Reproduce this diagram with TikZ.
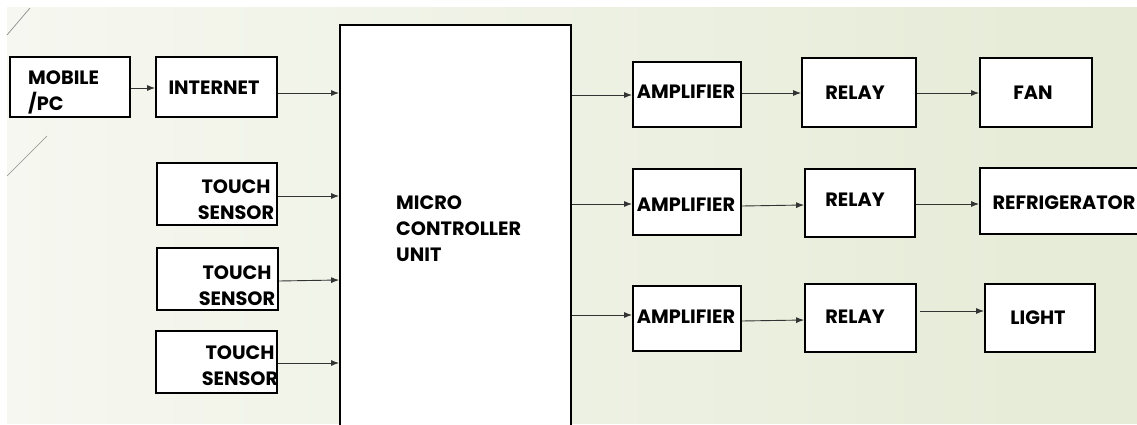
\documentclass[tikz,border=0pt]{standalone}
\usepackage{fontspec}
\setmainfont{Poppins}
\usetikzlibrary{arrows.meta}
\begin{document}
\begin{tikzpicture}[x=1pt,y=-1pt,
  box/.style={draw=black,line width=1.8pt,fill=white,inner sep=0pt},
  lbl/.style={font=\bfseries\fontsize{19.3}{26}\selectfont,inner sep=0pt,text=black},
  conn/.style={draw=black!80,line width=0.9pt,-{Latex[length=8pt,width=6pt]}},
  deco/.style={draw=black!45,line width=0.7pt}]
\useasboundingbox (0,0) rectangle (1137,425);
\clip (0,0) rectangle (1137,425);
% slide background
\shade[left color={rgb,255:red,246;green,247;blue,240},middle color=white,right color={rgb,255:red,229;green,235;blue,214}] (7,8) rectangle (1137,423);
\draw[deco] (7,35) -- (30,8);
\draw[deco] (7,176) -- (47,136);
% boxes
\node[box,minimum width=120pt,minimum height=60pt] (mob) at (70,87) {};
\node[box,minimum width=121pt,minimum height=60pt] (net) at (216.5,87) {};
\node[box,minimum width=120pt,minimum height=62pt] (t1) at (217,194) {};
\node[box,minimum width=121pt,minimum height=62pt] (t2) at (217.5,279) {};
\node[box,minimum width=121pt,minimum height=62pt] (t3) at (216.5,362) {};
\node[box,minimum width=231pt,minimum height=405pt] (mcu) at (455.5,227.5) {};
\node[box,minimum width=108pt,minimum height=65pt] (a1) at (687,94.5) {};
\node[box,minimum width=108pt,minimum height=66pt] (a2) at (687,202) {};
\node[box,minimum width=108pt,minimum height=65pt] (a3) at (687,318.5) {};
\node[box,minimum width=114pt,minimum height=69pt] (r1) at (859,92.5) {};
\node[box,minimum width=110pt,minimum height=68pt] (r2) at (860,203) {};
\node[box,minimum width=111pt,minimum height=68pt] (r3) at (860.5,318) {};
\node[box,minimum width=112pt,minimum height=69pt] (fan) at (1036,92.5) {};
\node[box,minimum width=170pt,minimum height=66pt] (ref) at (1065,201) {};
\node[box,minimum width=110pt,minimum height=68pt] (lig) at (1040,318) {};
% labels
\node[lbl,align=left,anchor=west] (tmob) at (28,92) {MOBILE\\/PC};
\node[lbl] (tnet) at (214,88) {INTERNET};
\node[lbl,align=center] (tt1) at (236,200) {TOUCH\\SENSOR};
\node[lbl,align=center] (tt2) at (237,286) {TOUCH\\SENSOR};
\node[lbl,align=center] (tt3) at (240,366) {TOUCH\\SENSOR};
\node[lbl,align=left,anchor=west] (tmcu) at (396,229) {MICRO\\CONTROLLER\\UNIT};
\node[lbl] (ta1) at (686,92) {AMPLIFIER};
\node[lbl] (ta2) at (686,205) {AMPLIFIER};
\node[lbl] (ta3) at (686,317) {AMPLIFIER};
\node[lbl] (tr1) at (855,93) {RELAY};
\node[lbl] (tr2) at (855,200) {RELAY};
\node[lbl] (tr3) at (855,317) {RELAY};
\node[lbl] (tfan) at (1033,93) {FAN};
\node[lbl] (tref) at (1064,203) {REFRIGERATOR};
\node[lbl] (tlig) at (1038,318) {LIGHT};
% connectors
\draw[conn] (mob.east |- 0,88) -- (net.west |- 0,88);
\draw[conn] (net.east |- 0,93) -- (mcu.west |- 0,93);
\draw[conn] (t1.east |- 0,196) -- (mcu.west |- 0,196);
\draw[conn] (t2.east |- 0,281) -- (mcu.west |- 0,280);
\draw[conn] (t3.east |- 0,363) -- (mcu.west |- 0,363);
\draw[conn] (mcu.east |- 0,95) -- (a1.west |- 0,95);
\draw[conn] (mcu.east |- 0,204) -- (a2.west |- 0,204);
\draw[conn] (mcu.east |- 0,315) -- (a3.west |- 0,315);
\draw[conn] (a1.east |- 0,93) -- (r1.west |- 0,93);
\draw[conn] (a2.east |- 0,206) -- (r2.west |- 0,205);
\draw[conn] (a3.east |- 0,321) -- (r3.west |- 0,320);
\draw[conn] (r1.east |- 0,93) -- (fan.west |- 0,93);
\draw[conn] (r2.east |- 0,204) -- (ref.west |- 0,204);
\coordinate (r3o) at (920,311);
\draw[conn] (r3o) -- (lig.west |- 0,311);
\end{tikzpicture}
\end{document}
